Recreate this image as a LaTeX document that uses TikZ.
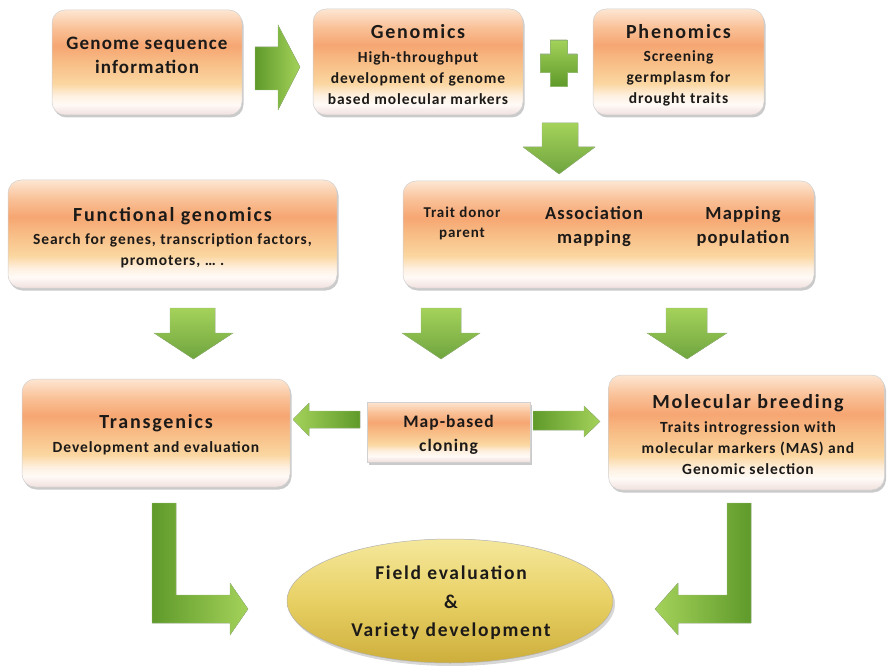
\documentclass[tikz,border=0pt]{standalone}
\usepackage{fontspec}
\setmainfont{Carlito}
\newfontfamily\widesub{Carlito}[LetterSpace=6]
\newfontfamily\widettl{Carlito}[LetterSpace=9]
\usetikzlibrary{shadows}

\definecolor{ink}{HTML}{1C1A18}
\definecolor{pk0}{HTML}{F0E0DE}
\definecolor{pk1}{HTML}{FFFAF6}
\definecolor{pk2}{HTML}{FEF1E2}
\definecolor{pk3}{HTML}{FBD6A0}
\definecolor{pk4}{HTML}{F8BD86}
\definecolor{pk5}{HTML}{F6A672}
\definecolor{pk6}{HTML}{F9C096}
\definecolor{pk7}{HTML}{FDE6D2}
\definecolor{gLight}{HTML}{A4D25A}
\definecolor{gMid}{HTML}{86BE3E}
\definecolor{gDark}{HTML}{5F9A2A}
\definecolor{yTop}{HTML}{F5E89C}
\definecolor{yMid}{HTML}{E8D064}
\definecolor{yBot}{HTML}{CDAE3C}

% peach band shading used by every process box
\pgfdeclareverticalshading{peach}{100bp}{
  color(0bp)=(pk0); color(25bp)=(pk0); color(30bp)=(pk1); color(34bp)=(pk2);
  color(40bp)=(pk3); color(50bp)=(pk4); color(58bp)=(pk5); color(66bp)=(pk6);
  color(75bp)=(pk7); color(100bp)=(pk7)}

\tikzset{
  procbox/.style={draw=black!18, line width=0.5pt, shading=peach,
    rounded corners=13pt, inner sep=0pt,
    drop shadow={shadow xshift=1.5pt, shadow yshift=-2.5pt, opacity=0.35, fill=black!60}},
  flatbox/.style={procbox, rounded corners=0pt},
  ttl/.style={text=ink, font=\widettl\fontsize{20}{24}\selectfont\bfseries, align=center, inner sep=0pt},
  sub/.style={text=ink, font=\widesub\fontsize{15.5}{21}\selectfont\bfseries, align=center, inner sep=0pt},
  mid/.style={text=ink, font=\widesub\fontsize{18.5}{23.5}\selectfont\bfseries, align=center, inner sep=0pt},
  downarrow/.style={top color=gLight, bottom color=gDark!90, draw=gDark!60, line width=0.3pt},
  rightarrow/.style={left color=gDark, right color=gLight, draw=gDark!60, line width=0.3pt},
  leftarrow/.style={right color=gDark, left color=gLight, draw=gDark!60, line width=0.3pt},
}

\begin{document}
\begin{tikzpicture}[x=1pt, y=-1pt]
\useasboundingbox (0,0) rectangle (887,666);

% ---- process boxes ----
\node[procbox, minimum width=190pt, minimum height=105pt] (gsi) at (147,62.5) {};
\node[procbox, minimum width=210pt, minimum height=106pt] (gen) at (418,62) {};
\node[procbox, minimum width=171pt, minimum height=106pt] (phe) at (678.5,62) {};
\node[procbox, minimum width=329pt, minimum height=108pt] (fun) at (172.5,234) {};
\node[procbox, minimum width=411pt, minimum height=107pt] (asm) at (608.5,234.5) {};
\node[procbox, minimum width=268pt, minimum height=108pt] (tra) at (156,433) {};
\node[flatbox, minimum width=163pt, minimum height=60pt] (map) at (448.5,432) {};
\node[procbox, minimum width=276pt, minimum height=115pt] (mol) at (746.5,432.5) {};

% ---- final goal ellipse ----
\fill[black!45, opacity=0.35] (452,604) ellipse [x radius=163pt, y radius=62pt];
\shade[top color=yTop, bottom color=yBot, middle color=yMid, draw=black!30, line width=0.5pt]
  (450,601) ellipse [x radius=163pt, y radius=62pt];
\coordinate (fld) at (450,601);

% ---- texts ----
\node[text=ink, font=\widesub\fontsize{19}{24}\selectfont\bfseries, align=center, inner sep=0pt]
  (gsi-t) at (147,55) {Genome sequence\\information};

\node[ttl] (gen-t) at (418,32) {Genomics};
\node[sub] (gen-s) at (418,78) {High-throughput\\development of genome\\based molecular markers};

\node[ttl] (phe-t) at (678.5,32) {Phenomics};
\node[sub] (phe-s) at (678.5,78) {Screening\\germplasm for\\drought traits};

\node[ttl] (fun-t) at (172.5,216) {Functional genomics};
\node[sub] (fun-s) at (172.5,250.5) {Search for genes, transcription factors,\\promoters, … .};

\node[text=ink, font=\widesub\fontsize{15}{20}\selectfont\bfseries, align=center, inner sep=0pt]
  (asm-a) at (462,223) {Trait donor\\parent};
\node[mid] (asm-b) at (594,226.5) {Association\\mapping};
\node[mid] (asm-c) at (743,226.5) {Mapping\\population};

\node[ttl] (tra-t) at (156,423) {Transgenics};
\node[sub] (tra-s) at (156,448) {Development and evaluation};

\node[text=ink, font=\widesub\fontsize{17.5}{24}\selectfont\bfseries, align=center, inner sep=0pt]
  (map-t) at (448.5,435) {Map-based\\cloning};

\node[ttl] (mol-t) at (748,403) {Molecular breeding};
\node[sub] (mol-s) at (748,448) {Traits introgression with\\molecular markers (MAS) and\\Genomic selection};

\node[text=ink, font=\widettl\fontsize{19.5}{28.5}\selectfont\bfseries, align=center, inner sep=0pt]
  (fld-t) at (451,603) {Field evaluation\\\&\\Variety development};

% ---- block arrows ----
% sequence -> genomics
\fill[rightarrow] (255,47) -- (278,47) -- (278,25) -- (300,67) -- (278,110) -- (278,90) -- (255,90) -- cycle;
% plus sign between genomics and phenomics
\fill[top color=gLight, bottom color=gDark, draw=gDark!70, line width=0.3pt]
  (550,40) -- (567,40) -- (567,54) -- (577,54) -- (577,72) -- (567,72) -- (567,86)
  -- (550,86) -- (550,72) -- (540,72) -- (540,54) -- (550,54) -- cycle;
% genomics + phenomics -> association row
\fill[downarrow] (542,123) -- (578,123) -- (578,147) -- (595,147) -- (559,174) -- (523,147) -- (542,147) -- cycle;
% second row -> third row
\fill[downarrow] (170,308) -- (215,308) -- (215,333) -- (233,333) -- (193.5,359) -- (154,333) -- (170,333) -- cycle;
\fill[downarrow] (421,308) -- (461,308) -- (461,333) -- (480,333) -- (441,359) -- (402,333) -- (421,333) -- cycle;
\fill[downarrow] (666,308) -- (707,308) -- (707,333) -- (727,333) -- (687,359) -- (647,333) -- (666,333) -- cycle;
% map-based cloning -> transgenics / molecular breeding
\fill[leftarrow] (360,411) -- (309,411) -- (309,403) -- (293,419.5) -- (309,436) -- (309,428) -- (360,428) -- cycle;
\fill[rightarrow] (533,411) -- (584,411) -- (584,406) -- (600,421.5) -- (584,437) -- (584,430) -- (533,430) -- cycle;
% bent arrows into the goal
\fill[rightarrow] (152,503) -- (176,503) -- (176,595) -- (230,595) -- (230,583) -- (248,609)
  -- (230,635) -- (230,623) -- (152,623) -- cycle;
\fill[leftarrow] (751,503) -- (727,503) -- (727,595) -- (678,595) -- (678,583) -- (655,609)
  -- (678,635) -- (678,623) -- (751,623) -- cycle;
\end{tikzpicture}
\end{document}
